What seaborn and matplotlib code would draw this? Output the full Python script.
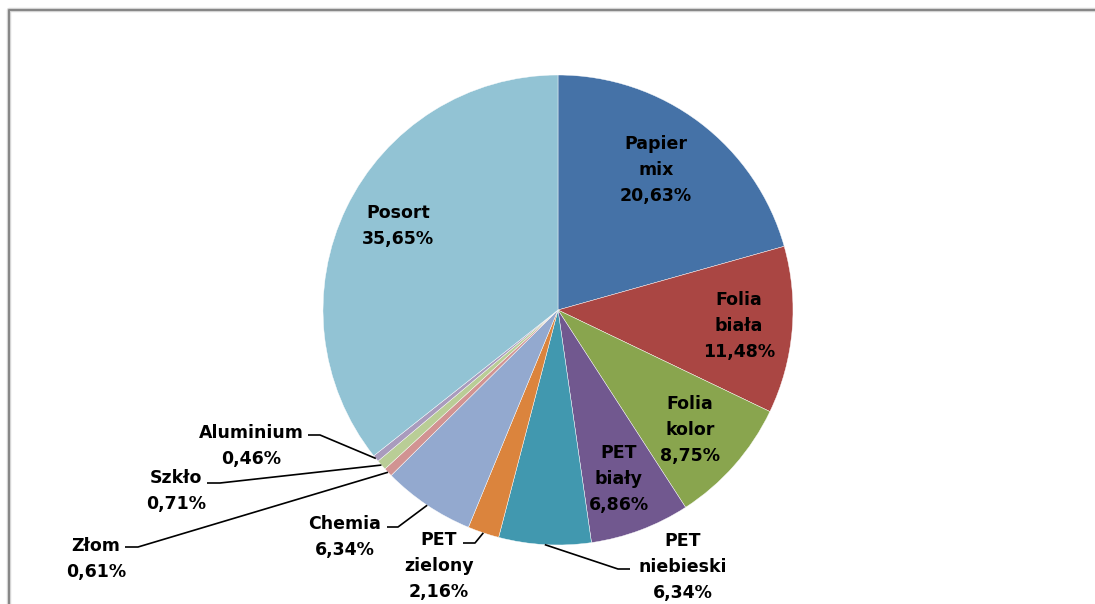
import numpy as np
import matplotlib.pyplot as plt
import seaborn as sns

sns.set_theme(style="white")
plt.rcParams['font.family'] = ['DejaVu Sans']

# === Data ===
names = ['Papier\nmix', 'Folia\nbiała', 'Folia\nkolor', 'PET\nbiały', 'PET\nniebieski',
         'PET\nzielony', 'Chemia', 'Złom', 'Szkło', 'Aluminium', 'Posort']
shares = [20.63, 11.48, 8.75, 6.86, 6.34, 2.16, 6.34, 0.61, 0.71, 0.46, 35.65]
colors = ['#4572A7', '#AA4643', '#89A54E', '#71588F', '#4198AF', '#DB843D',
          '#93A9CF', '#D19392', '#B9CD96', '#A99BBD', '#92C3D4']

# label placement in pixel units (x, y from top)
label_pos = [(656, 170), (739, 326), (690, 430), (619, 479), (683, 567),
             (439, 566), (345, 537), (96, 559), (176, 491), (251, 446), (398, 226)]
# leader elbow and end points (pixels), only for outside labels
leaders = {4: [(618, 569), (630, 569)],
           5: [(475, 543), (463, 543)],
           6: [(398, 527), (387, 527)],
           7: [(138, 547), (125, 547)],
           8: [(220, 483), (207, 483)],
           9: [(320, 435), (308, 435)]}

W, H = 1095, 604
cx, cy, R = 558, 310, 235


def px(x, y):
    return x, H - y


fig = plt.figure(figsize=(W / 100, H / 100), dpi=100)
ax = fig.add_axes([0, 0, 1, 1])

wedges, _ = ax.pie(shares, colors=colors, startangle=90, counterclock=False,
                   center=px(cx, cy), radius=R,
                   wedgeprops=dict(linewidth=0.3, edgecolor='white'))

ax.set_xlim(0, W)
ax.set_ylim(0, H)
ax.set_aspect('equal')
ax.axis('off')

# labels
for i, (name, v) in enumerate(zip(names, shares)):
    txt = f"{name}\n{v:.2f}".replace('.', ',') + '%'
    x, y = px(*label_pos[i])
    ax.text(x, y, txt, ha='center', va='center', multialignment='center',
            fontsize=12.5, fontweight='bold', color='black', linespacing=1.6)

# leader lines from the middle of the slice edge
for i, pts in leaders.items():
    w = wedges[i]
    mid = np.deg2rad((w.theta1 + w.theta2) / 2)
    sx, sy = cx + R * np.cos(mid), cy - R * np.sin(mid)
    xs = [sx] + [p[0] for p in pts]
    ys = [H - sy] + [H - p[1] for p in pts]
    ax.plot(xs, ys, color='black', lw=1.2, solid_capstyle='butt')

# chart frame (only left and top edges visible)
ax.plot([9, 9, W + 5], [-5, H - 9.5, H - 9.5], color='#d8d8d8', lw=3.2, clip_on=False)
ax.plot([9, 9, W + 5], [-5, H - 9.5, H - 9.5], color='#878787', lw=1.5, clip_on=False)

fig.savefig('out.png', dpi=100)
